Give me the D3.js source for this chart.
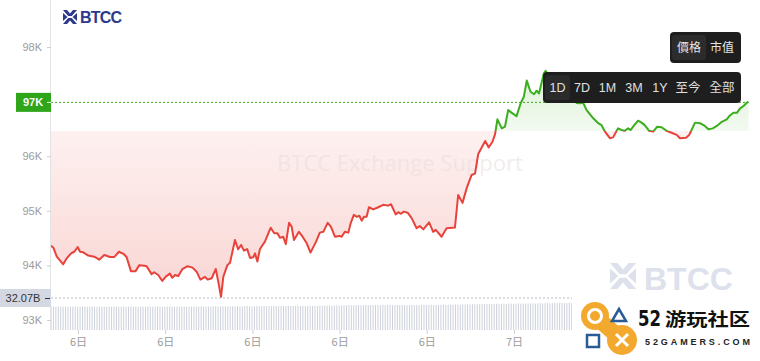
<!DOCTYPE html>
<html><head><meta charset="utf-8">
<script src="https://cdn.jsdelivr.net/npm/d3@7"></script>
<style>html,body{margin:0;padding:0;background:#fff;overflow:hidden}svg{display:block}</style>
</head><body><svg id="c" width="760" height="361"></svg>
<script>
// ---- data (hours since 6日 00:00, price in USD) ----
const priceHours = [8.07,8.15,8.27,8.49,8.61,8.76,8.87,8.99,9.07,9.18,
9.35,9.56,9.73,9.90,10.10,10.25,10.41,10.58,10.67,10.82,
10.98,11.11,11.28,11.36,11.53,11.62,11.76,11.90,12.02,12.16,
12.24,12.34,12.45,12.59,12.77,12.94,13.08,13.21,13.37,13.46,
13.60,13.74,13.83,13.92,14.00,14.14,14.23,14.40,14.51,14.61,
14.71,14.82,14.92,15.03,15.09,15.17,15.26,15.43,15.63,15.75,
15.86,15.95,16.06,16.15,16.26,16.35,16.43,16.60,16.71,16.87,
17.00,17.19,17.32,17.44,17.59,17.70,17.84,17.99,18.07,18.18,
18.30,18.38,18.49,18.59,18.68,18.76,18.84,18.93,19.01,19.16,
19.33,19.50,19.67,19.77,19.93,20.02,20.11,20.21,20.34,20.48,
20.65,20.76,20.88,21.08,21.22,21.31,21.51,21.68,21.97,22.08,
22.23,22.37,22.54,22.66,22.77,23.01,23.13,23.26,23.35,23.43,
23.58,23.69,23.80,23.95,24.09,24.23,24.34,24.44,24.57,24.69,
24.78,24.86,25.03,25.09,25.30,25.55,25.80,26.00,
26.16,26.27,26.38,26.50,26.73,26.90,27.01,27.13,27.30,27.41,
27.58,27.70,27.81,27.93,28.01,28.10,28.27,28.39,28.50,28.65,
28.79,28.93,29.08,29.25,29.42,29.60,29.71,29.92,30.03,30.23,
30.40,30.57,30.69,30.84,30.98,31.15,31.32,31.41,31.55,31.67,
31.78,31.90,32.01,32.07];
const prices = [94360,94325,94160,94020,94130,94220,94250,94335,94250,94240,
94180,94160,94105,94190,94155,94155,94250,94205,94155,93895,
93895,94005,93995,93985,93840,93875,93825,93715,93795,93850,
93775,93825,93805,93930,93985,93960,93885,93740,93790,93740,
93765,93935,93690,93425,93795,94005,94050,94465,94295,94375,
94270,94300,94135,94150,94220,94070,94300,94435,94690,94590,
94590,94505,94525,94390,94780,94710,94465,94615,94540,94405,
94235,94435,94600,94615,94780,94710,94525,94540,94525,94615,
94600,94770,94925,94890,94910,94820,94890,94890,95065,95025,
95065,95110,95095,95120,94935,94975,94945,94985,94965,94865,
94680,94720,94660,94790,94615,94650,94525,94680,94695,95290,
95145,95410,95655,95680,96040,96280,96160,96265,96405,96675,
96510,96540,96845,96785,96735,96970,97090,97385,97180,97135,
97200,97150,97520,97565,97395,97250,97175,97065,
96975,96970,96980,96845,96695,96605,96570,96450,96330,96345,
96510,96480,96465,96510,96480,96540,96650,96615,96570,96465,
96450,96540,96530,96465,96430,96390,96330,96340,96390,96615,
96605,96555,96495,96510,96555,96630,96675,96735,96795,96795,
96875,96920,96980,96995];
// volume in billions, one bar per 5 minutes from 08:04 on the 6th
const volumeStartHour = 8.07;
const volumeStepMinutes = 5;
const volumes = [
23.4,23.5,23.3,23.6,23.4,23.5,23.3,23.2,23.4,23.5,23.6,23.4,
23.3,23.5,23.4,23.2,23.4,23.6,23.5,23.3,23.4,23.5,23.3,23.4,
23.5,23.4,23.6,23.5,23.3,23.4,23.2,23.5,23.4,23.6,23.5,23.3,
23.4,23.5,23.3,23.4,23.6,23.5,23.4,23.3,23.5,23.4,23.2,23.4,
23.5,23.6,23.4,23.3,23.5,23.4,23.6,23.5,23.4,23.3,23.5,23.6,
23.4,23.5,23.7,23.6,23.4,23.5,23.3,23.6,23.8,23.5,23.6,23.7,
23.8,23.6,23.7,23.9,23.7,23.6,23.8,23.7,23.9,24.0,23.8,23.7,
23.9,24.0,23.8,23.9,24.1,23.9,24.0,23.8,24.0,24.1,23.9,24.0,
24.1,24.0,24.2,24.1,23.9,24.0,24.2,24.1,24.3,24.2,24.0,24.1,
24.2,24.3,24.1,24.4,24.3,24.2,24.4,24.5,24.3,24.4,24.6,24.5,
24.6,24.8,24.7,24.9,24.8,24.6,24.9,25.0,24.8,24.9,25.1,24.9,
25.0,24.8,25.1,24.9,25.0,25.2,24.9,25.1,25.0,24.8,25.0,25.1,
24.9,25.1,25.0,24.8,25.0,25.2,25.1,24.9,25.0,25.1,25.3,25.0,
25.1,25.2,25.0,25.3,25.1,25.2,25.4,25.2,25.3,25.5,25.3,25.4,
25.6,25.4,25.7,25.5,25.8,25.6,25.9,25.7,26.0,25.8,26.1,25.9,
26.0,26.2,25.9,26.1,26.3,26.0,26.2,26.4,26.1,26.3,26.5,26.2,
26.4,26.6,26.3,26.5,26.7,26.4,26.6,26.8,26.5,26.7,26.9,26.6,
26.8,27.0,26.7,26.9,27.1,26.8,27.0,27.2,26.9,27.1,27.3,27.0,
27.2,27.0,27.3,27.1,27.4,27.2,27.5,27.3,27.6,27.4,27.7,27.5,
27.8,27.6,27.9,28.1,27.9,28.2,28.0,28.3,28.1,28.4,28.2,28.5,
28.6,28.4,28.7,28.9,28.7,29.0,28.8,29.1,28.9,29.2,29.0,29.3,
29.4,29.2,29.5,29.7,29.5,29.8,29.6,29.9,29.7,30.0,29.8,30.1,
30.2,30.0,30.3,30.5,30.3,30.6,30.4,30.7,30.5,30.8,30.6,30.9,
31.0,31.2,31.1,31.3,31.5,31.4,31.6,31.7,31.6,31.8,31.9,32.0,
32.07];
const lastVolume = 32.07;
const baselinePrice = 96460;
const priceLimits = [92817, 98861];
const hourLimits = [8.07, 32.07];
const yTickValues = [93000, 94000, 95000, 96000, 97000, 98000];
const xTickHours = [9, 12, 15, 18, 21, 24];
const xTickLabels = ["6日", "6日", "6日", "6日", "6日", "7日"];
const modeButtons = ["價格", "市值"];
const rangeButtons = ["1D", "7D", "1M", "3M", "1Y", "至今", "全部"];

// ---- chart ----
const svg = d3.select("#c");
const L = 51, R = 748.5, B = 330;
const x = d3.scaleLinear().domain(hourLimits).range([L, R]);
const y = d3.scaleLinear().domain(priceLimits).range([B, 0]);
const yv = d3.scaleLinear().domain([0, lastVolume]).range([B, 298]);
const n = Math.min(priceHours.length, prices.length);
const pts = d3.range(n).map(i => ({h: priceHours[i], p: prices[i]}));
const yB = y(baselinePrice);
const RED = "#e8433a", GREEN = "#3aae1c";
const CJK = "'Noto Sans CJK TC','Noto Sans CJK SC',sans-serif";
const LAT = "'Liberation Sans',Arial,sans-serif";

const defs = svg.append("defs");
const rg = defs.append("linearGradient").attr("id","rg").attr("gradientUnits","userSpaceOnUse")
  .attr("x1",0).attr("x2",0).attr("y1",yB).attr("y2",300);
rg.append("stop").attr("offset",0).attr("stop-color","#fdf1f0");
rg.append("stop").attr("offset",1).attr("stop-color","#f9d5d3");
const gg = defs.append("linearGradient").attr("id","gg").attr("gradientUnits","userSpaceOnUse")
  .attr("x1",0).attr("x2",0).attr("y1",y(97565)).attr("y2",yB);
gg.append("stop").attr("offset",0).attr("stop-color","#ddf1d6");
gg.append("stop").attr("offset",1).attr("stop-color","#f3faf1");
defs.append("clipPath").attr("id","ca").append("rect").attr("x",L).attr("y",0).attr("width",R-L+2).attr("height",yB);
defs.append("clipPath").attr("id","cb").append("rect").attr("x",L).attr("y",yB).attr("width",R-L+2).attr("height",B-yB);

svg.append("rect").attr("width",760).attr("height",361).attr("fill","#fff");

const area = d3.area().x(d => x(d.h)).y0(yB).y1(d => y(d.p));
svg.append("path").datum(pts).attr("d",area).attr("fill","url(#rg)").attr("clip-path","url(#cb)");
svg.append("path").datum(pts).attr("d",area).attr("fill","url(#gg)").attr("clip-path","url(#ca)");

// watermark
svg.append("text").attr("x",400).attr("y",171).attr("text-anchor","middle")
  .attr("font-family","'Open Sans',"+LAT).attr("font-size",22).attr("fill","#eadede").attr("opacity",0.55)
  .text("BTCC Exchange Support");

// volume bars
const vol = volumes.map((v,i) => ({h: volumeStartHour + i*volumeStepMinutes/60, v}));
svg.append("g").selectAll("line").data(vol).join("line")
  .attr("x1",d => x(d.h)).attr("x2",d => x(d.h))
  .attr("y1",B).attr("y2",d => yv(d.v))
  .attr("stroke","#cdd1da").attr("stroke-width",1);
svg.append("line").attr("x1",L).attr("x2",R).attr("y1",yv(lastVolume)).attr("y2",yv(lastVolume))
  .attr("stroke","#b8bcc6").attr("stroke-dasharray","2,2").attr("stroke-width",1);

// price line
const line = d3.line().x(d => x(d.h)).y(d => y(d.p));
svg.append("path").datum(pts).attr("d",line).attr("fill","none").attr("stroke",GREEN)
  .attr("stroke-width",2).attr("stroke-linejoin","round").attr("clip-path","url(#ca)");
svg.append("path").datum(pts).attr("d",line).attr("fill","none").attr("stroke",RED)
  .attr("stroke-width",2).attr("stroke-linejoin","round").attr("clip-path","url(#cb)");

// last price dotted line
const lastP = prices[n-1];
svg.append("line").attr("x1",L).attr("x2",R).attr("y1",y(lastP)+0.5).attr("y2",y(lastP)+0.5)
  .attr("stroke",GREEN).attr("stroke-dasharray","2,2").attr("stroke-width",1);

// axes
svg.append("line").attr("x1",L-0.5).attr("x2",L-0.5).attr("y1",0).attr("y2",B).attr("stroke","#e3e3e3");
const ya = svg.append("g").attr("transform",`translate(${L},0)`)
  .call(d3.axisLeft(y).tickValues(yTickValues).tickSize(4).tickPadding(5).tickFormat(d => d/1000 + "K"));
ya.select(".domain").remove();
ya.selectAll("line").attr("stroke","#cfcfcf");
ya.selectAll("text").attr("fill","#9b9b9b").attr("font-size",11).attr("font-family",LAT);

const xa = svg.append("g").attr("transform",`translate(0,${B})`)
  .call(d3.axisBottom(x).tickValues(xTickHours).tickSize(4).tickPadding(4).tickFormat((d,i) => xTickLabels[i]));
xa.select(".domain").remove();
xa.selectAll("line").attr("stroke","#cfcfcf");
xa.selectAll("text").attr("fill","#9b9b9b").attr("font-size",11).attr("font-family",CJK);

// last price label
const lg = svg.append("g");
lg.append("rect").attr("x",16).attr("y",y(lastP)-9).attr("width",35).attr("height",19).attr("fill","#2fa51a");
lg.append("text").attr("x",33).attr("y",y(lastP)+4.5).attr("text-anchor","middle").attr("fill","#fff")
  .attr("font-size",11).attr("font-weight","bold").attr("font-family",LAT).text(Math.round(lastP/1000)+"K");
lg.append("line").attr("x1",47).attr("x2",51).attr("y1",y(lastP)+0.5).attr("y2",y(lastP)+0.5).attr("stroke","#fff");

// volume label
const vg = svg.append("g");
vg.append("rect").attr("x",0).attr("y",yv(lastVolume)-9).attr("width",51).attr("height",18).attr("fill","#d4d8e2");
vg.append("text").attr("x",23).attr("y",yv(lastVolume)+4).attr("text-anchor","middle").attr("fill","#333")
  .attr("font-size",11).attr("font-family",LAT).text(lastVolume.toFixed(2)+"B");
vg.append("line").attr("x1",45).attr("x2",50).attr("y1",yv(lastVolume)+0.5).attr("y2",yv(lastVolume)+0.5).attr("stroke","#333");

// BTCC logo icon
function btccIcon(g, cx, cy, s, col) {
  const k = s/7;
  g.append("path").attr("fill",col)
    .attr("d", `M${cx-7*k},${cy-7*k} L${cx-3*k},${cy-7*k} L${cx},${cy-3.5*k} L${cx+3*k},${cy-7*k} L${cx+7*k},${cy-7*k} L${cx+1.8*k},${cy-1*k} L${cx-1.8*k},${cy-1*k} Z
      M${cx-7*k},${cy+7*k} L${cx-3*k},${cy+7*k} L${cx},${cy+3.5*k} L${cx+3*k},${cy+7*k} L${cx+7*k},${cy+7*k} L${cx+1.8*k},${cy+1*k} L${cx-1.8*k},${cy+1*k} Z
      M${cx-7*k},${cy-4*k} L${cx-2.5*k},${cy} L${cx-7*k},${cy+4*k} Z
      M${cx+7*k},${cy-4*k} L${cx+2.5*k},${cy} L${cx+7*k},${cy+4*k} Z`);
}
const tl = svg.append("g");
btccIcon(tl, 70, 17, 7, "#2d3a8c");
tl.append("text").attr("x",80).attr("y",23).attr("font-family",LAT).attr("font-weight","bold")
  .attr("font-size",16).attr("fill","#2d3a8c").attr("textLength",42).text("BTCC");
const wm = svg.append("g");
btccIcon(wm, 623, 276, 13, "#dde1ec");
wm.append("text").attr("x",644).attr("y",290).attr("font-family",LAT).attr("font-weight","bold")
  .attr("font-size",32).attr("fill","#dde1ec").text("BTCC");

// overlay logo (52gamers)
const og = svg.append("g");
og.append("rect").attr("x",572).attr("y",293).attr("width",188).attr("height",68).attr("fill","#fff");
const OR = "#f3a82e", BL = "#2a5b94";
og.append("line").attr("x1",595).attr("y1",316).attr("x2",622).attr("y2",340).attr("stroke",OR).attr("stroke-width",16);
og.append("circle").attr("cx",595).attr("cy",316).attr("r",14).attr("fill",OR);
og.append("circle").attr("cx",622).attr("cy",340).attr("r",15).attr("fill",OR);
og.append("circle").attr("cx",595).attr("cy",316).attr("r",6.5).attr("fill","none").attr("stroke","#fff").attr("stroke-width",3);
og.append("path").attr("d","M616,334 L628,346 M628,334 L616,346").attr("stroke","#fff").attr("stroke-width",3);
og.append("path").attr("d","M619,309 L612,321 L626,321 Z").attr("fill","none").attr("stroke",BL).attr("stroke-width",2.5);
og.append("rect").attr("x",587).attr("y",335).attr("width",12).attr("height",12).attr("fill","none").attr("stroke",BL).attr("stroke-width",2.5);
og.append("text").attr("x",638).attr("y",326).attr("font-family","'Liberation Sans Narrow','DejaVu Sans Condensed',"+LAT)
  .attr("font-weight","bold").attr("font-size",22).attr("fill","#111")
  .attr("textLength",23).attr("lengthAdjust","spacingAndGlyphs").text("52");
og.append("text").attr("x",665).attr("y",326).attr("font-family","'Noto Sans CJK SC',sans-serif")
  .attr("font-weight","bold").attr("font-size",18).attr("fill","#111")
  .attr("textLength",85).attr("lengthAdjust","spacingAndGlyphs").text("游玩社区");
og.append("text").attr("x",645).attr("y",345).attr("font-family",LAT).attr("font-weight","bold")
  .attr("font-size",9).attr("fill","#222").attr("textLength",105).attr("lengthAdjust","spacing").text("52GAMERS.COM");

// buttons
const bg1 = svg.append("g");
bg1.append("rect").attr("x",670).attr("y",32).attr("width",71).attr("height",31).attr("rx",4).attr("fill","#1e1e1e");
bg1.append("rect").attr("x",672).attr("y",35).attr("width",34).attr("height",25).attr("rx",3).attr("fill","#2c2c2c");
const modeX = [689, 722];
bg1.selectAll("text").data(modeButtons).join("text").attr("x",(d,i) => modeX[i]).attr("y",51.5)
  .attr("text-anchor","middle").attr("font-family",CJK).attr("font-size",12).attr("fill","#e6e6e6").text(d => d);
const bg2 = svg.append("g");
bg2.append("rect").attr("x",543).attr("y",72).attr("width",198).attr("height",31).attr("rx",4).attr("fill","#1e1e1e");
bg2.append("rect").attr("x",545).attr("y",75).attr("width",25).attr("height",25).attr("rx",3).attr("fill","#2b2b2b");
const rangeX = [557.5, 582, 607.5, 634, 660, 688, 722];
bg2.selectAll("text").data(rangeButtons).join("text").attr("x",(d,i) => rangeX[i]).attr("y",92)
  .attr("text-anchor","middle").attr("font-family",(d) => /[A-Z0-9]/.test(d) ? LAT : CJK)
  .attr("font-size",12.5).attr("fill","#e0e0e0").text(d => d);
</script></body></html>
